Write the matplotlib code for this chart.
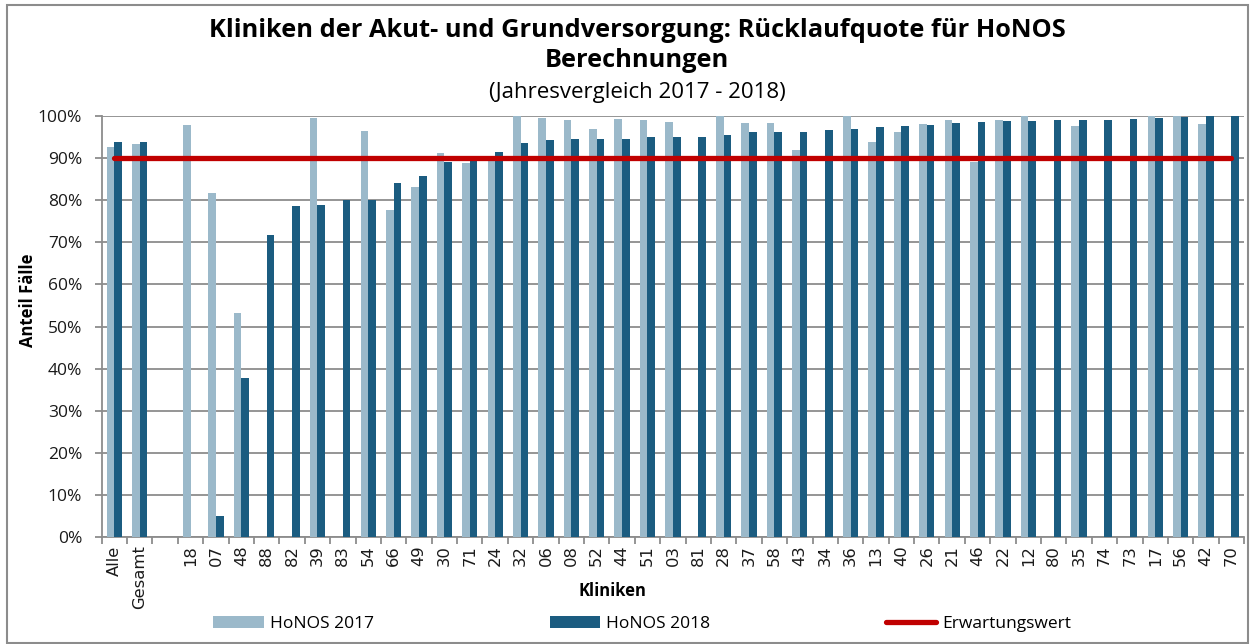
import numpy as np
import matplotlib.pyplot as plt
from matplotlib.patches import Patch, Rectangle
from matplotlib.lines import Line2D
from matplotlib.ticker import FixedLocator, PercentFormatter

# Data (percent)
kliniken = ["Alle", "Gesamt", "", "18", "07", "48", "88", "82", "39", "83", "54", "66",
            "49", "30", "71", "24", "32", "06", "08", "52", "44", "51", "03", "81",
            "28", "37", "58", "43", "34", "36", "13", "40", "26", "21", "46", "22",
            "12", "80", "35", "74", "73", "17", "56", "42", "70"]
nan = np.nan
honos_2017 = [92.7, 93.3, nan, 97.8, 81.8, 53.1, nan, nan, 99.4, nan, 96.4, 77.7,
              83.1, 91.2, 88.9, 90.0, 100.0, 99.4, 99.0, 97.0, 99.3, 99.0, 98.6, nan,
              100.0, 98.3, 98.4, 92.0, nan, 100.0, 93.7, 96.3, 98.1, 99.1, 89.1, 99.0,
              100.0, nan, 97.5, nan, nan, 100.0, 100.0, 98.1, nan]
honos_2018 = [93.7, 93.7, nan, nan, 5.1, 37.8, 71.8, 78.6, 78.9, 80.0, 80.0, 84.1,
              85.7, 89.1, 89.3, 91.4, 93.5, 94.3, 94.5, 94.6, 94.6, 94.9, 95.0, 95.0,
              95.4, 96.1, 96.3, 96.3, 96.6, 96.9, 97.3, 97.5, 97.9, 98.3, 98.6, 98.7,
              98.9, 99.0, 99.1, 99.1, 99.3, 99.4, 99.8, 100.0, 100.0]
erwartungswert = 90.0

LIGHT = "#9BB9CA"
DARK = "#1B5C80"
RED = "#C00000"
GRIDC = "#8C8C8C"
INK = "#1A1A1A"

fig = plt.figure(figsize=(12.52, 6.44), dpi=100)
ax = fig.add_axes([0.0812, 0.166, 0.9125, 0.654])

x = np.arange(len(kliniken))
w = 0.3
ax.bar(x - w / 2, honos_2017, width=w, color=LIGHT, zorder=3)
ax.bar(x + w / 2, honos_2018, width=w, color=DARK, zorder=3)
ax.plot([x[0], x[-1]], [erwartungswert, erwartungswert], color=RED, lw=3.8,
        solid_capstyle="round", zorder=5)

ax.set_xlim(-0.5, len(kliniken) - 0.5)
ax.set_ylim(0, 100)
ax.set_yticks(np.arange(0, 101, 10))
ax.yaxis.set_major_formatter(PercentFormatter(decimals=0))
ax.yaxis.grid(True, color=GRIDC, lw=1.3, zorder=0)
ax.set_axisbelow(True)

ax.set_xticks(x)
ax.set_xticklabels(kliniken, rotation=90, fontsize=11.8, family="DejaVu Sans", color=INK)
ax.xaxis.set_minor_locator(FixedLocator(np.arange(-0.5, len(kliniken), 1.0)))
ax.tick_params(axis="x", which="major", length=0, pad=6)
ax.tick_params(axis="x", which="minor", length=5, color=GRIDC, width=1.3)
ax.tick_params(axis="y", length=5, color=GRIDC, width=1.3, labelsize=12.5, labelcolor=INK, pad=9)
for lab in ax.get_yticklabels():
    lab.set_family("Open Sans")

for s in ["top", "right"]:
    ax.spines[s].set_visible(False)
for s in ["left", "bottom"]:
    ax.spines[s].set_color(GRIDC)
    ax.spines[s].set_linewidth(1.3)

# axis titles placed where the reference has them
fig.text(28 / 1252, 1 - 300 / 644, "Anteil Fälle", rotation=90, ha="center", va="center",
         fontsize=12, fontweight="bold", family="Open Sans", color="black")
fig.text(612 / 1252, 1 - 591 / 644, "Kliniken", ha="center", va="center", fontsize=12,
         fontweight="bold", family="Open Sans", color="black")

cx = 637 / 1252
fig.text(cx, 0.953, "Kliniken der Akut- und Grundversorgung: Rücklaufquote für HoNOS",
         ha="center", va="center", fontsize=18.3, fontweight="bold", family="Open Sans", color="black")
fig.text(cx, 0.906, "Berechnungen", ha="center", va="center", fontsize=18.3,
         fontweight="bold", family="Open Sans", color="black")
fig.text(cx, 0.857, "(Jahresvergleich 2017 - 2018)", ha="center", va="center",
         fontsize=16, family="Open Sans", color="black")

handles = [Patch(facecolor=LIGHT), Patch(facecolor=DARK),
           Line2D([0], [0], color=RED, lw=3.8, solid_capstyle="round")]
labels = ["HoNOS 2017", "HoNOS 2018", "Erwartungswert"]
fig.legend(handles, labels, loc="center", bbox_to_anchor=(0.158, 0.031, 0.71, 0.0),
           ncol=3, mode="expand", frameon=False, handlelength=2.9, handleheight=0.7,
           handletextpad=0.35, prop={"family": "Open Sans", "size": 12.5})

fig.patches.append(Rectangle((7 / 1252, 1 - 643 / 644), 1241 / 1252, 638 / 644,
                             transform=fig.transFigure, fill=False, edgecolor=GRIDC, lw=1.5))

fig.savefig("out.png", dpi=100)
